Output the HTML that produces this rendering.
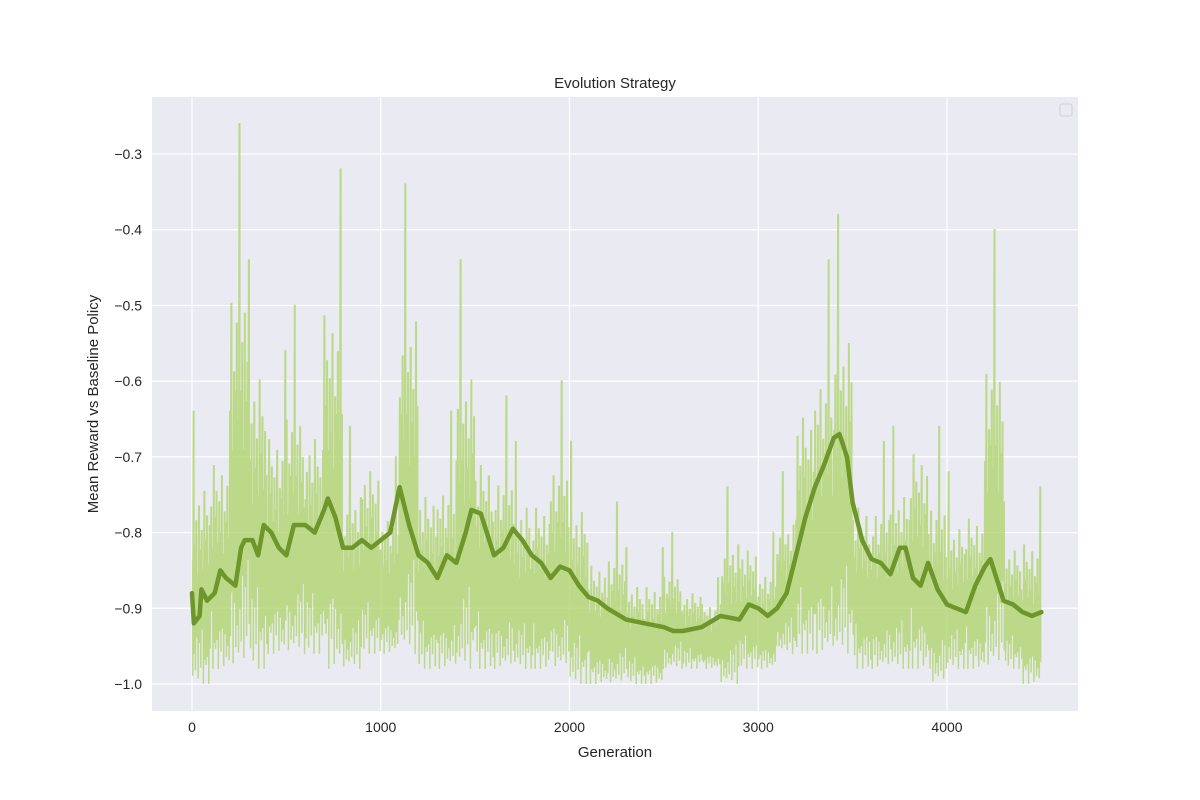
<!DOCTYPE html>
<html><head><meta charset="utf-8"><style>
body{margin:0;background:#fff;}
svg{display:block;font-family:"Liberation Sans",sans-serif;}
</style></head><body>
<svg id="chart" width="1200" height="800"></svg>
<script>
const rawBins=[0,100,200,300,400,500,600,700,800,900,1000,1100,1200,1300,1400,1500,1600,1700,1800,1900,2000,2100,2200,2300,2400,2500,2600,2700,2800,2900,3000,3100,3200,3300,3400,3500,3600,3700,3800,3900,4000,4100,4200,4300,4400];
const rawHigh=[-0.64,-0.60,-0.26,-0.44,-0.56,-0.50,-0.56,-0.32,-0.66,-0.62,-0.70,-0.34,-0.66,-0.64,-0.44,-0.60,-0.62,-0.68,-0.68,-0.60,-0.68,-0.78,-0.76,-0.82,-0.82,-0.80,-0.84,-0.86,-0.74,-0.76,-0.80,-0.72,-0.52,-0.44,-0.38,-0.68,-0.68,-0.66,-0.58,-0.66,-0.72,-0.70,-0.40,-0.76,-0.74];
const rawLow=[-1.0,-0.98,-0.98,-0.98,-0.96,-0.96,-0.96,-0.98,-0.98,-0.96,-0.96,-0.96,-0.98,-0.98,-0.98,-0.98,-0.98,-0.98,-0.98,-0.98,-1.0,-1.0,-1.0,-1.0,-1.0,-0.98,-0.98,-0.98,-1.0,-0.98,-0.98,-0.96,-0.96,-0.96,-0.96,-0.98,-0.98,-0.98,-0.98,-1.0,-0.98,-0.98,-0.98,-0.98,-1.0];
const smoothGen=[0,10,40,50,80,120,150,180,230,260,280,320,350,380,420,460,500,540,600,650,700,720,760,800,850,900,950,1000,1050,1100,1150,1200,1250,1300,1350,1400,1450,1480,1530,1600,1650,1700,1750,1800,1850,1900,1950,2000,2050,2100,2150,2200,2300,2400,2500,2550,2600,2700,2800,2900,2950,3000,3050,3100,3150,3200,3250,3300,3350,3400,3430,3470,3500,3550,3600,3650,3700,3750,3780,3820,3860,3900,3950,4000,4050,4100,4150,4200,4230,4300,4350,4400,4450,4500];
const smoothVal=[-0.88,-0.92,-0.91,-0.875,-0.89,-0.88,-0.85,-0.86,-0.87,-0.82,-0.81,-0.81,-0.83,-0.79,-0.80,-0.82,-0.83,-0.79,-0.79,-0.80,-0.77,-0.755,-0.78,-0.82,-0.82,-0.81,-0.82,-0.81,-0.80,-0.74,-0.79,-0.83,-0.84,-0.86,-0.83,-0.84,-0.80,-0.77,-0.775,-0.83,-0.82,-0.795,-0.81,-0.83,-0.84,-0.86,-0.845,-0.85,-0.87,-0.885,-0.89,-0.90,-0.915,-0.92,-0.925,-0.93,-0.93,-0.925,-0.91,-0.915,-0.895,-0.90,-0.91,-0.90,-0.88,-0.83,-0.78,-0.74,-0.71,-0.675,-0.67,-0.70,-0.76,-0.81,-0.835,-0.84,-0.855,-0.82,-0.82,-0.86,-0.87,-0.84,-0.875,-0.895,-0.90,-0.905,-0.87,-0.845,-0.835,-0.89,-0.895,-0.905,-0.91,-0.905];
const xTicks=[0,1000,2000,3000,4000];
const yTicks=[-1.0,-0.9,-0.8,-0.7,-0.6,-0.5,-0.4,-0.3];

const NS="http://www.w3.org/2000/svg";
const svg=document.getElementById('chart');
const L=152,R=1078,T=97,B=711;
const X=g=>192+g*(947-192)/4000;
const Y=v=>154+(v+0.3)*(684-154)/(-0.7);
function mk(tag,attrs,parent){const e=document.createElementNS(NS,tag);for(const k in attrs)e.setAttribute(k,attrs[k]);(parent||svg).appendChild(e);return e;}

const bg=mk('rect',{x:L,y:T,width:R-L,height:B-T,fill:'#eaeaf2'});


xTicks.forEach(t=>{
  const g=mk('line',{x1:X(t),x2:X(t),y1:T,y2:B,stroke:'#fff','stroke-width':1.2});
  
  
  const lb=mk('text',{x:X(t),y:B+21,'text-anchor':'middle','font-size':14,fill:'#262626'});
  lb.textContent=t;
  
  
});
yTicks.forEach(t=>{
  const g=mk('line',{x1:L,x2:R,y1:Y(t),y2:Y(t),stroke:'#fff','stroke-width':1.2});
  
  
  const lb=mk('text',{x:L-10,y:Y(t)+5,'text-anchor':'end','font-size':14,fill:'#262626'});
  lb.textContent=t.toFixed(1).replace('-','\u2212');
  
  
});

const pat=[0.15,1,0.3,0.55,0,0.7,0.25,0.45,0.05,0.85,0.35,0.6,0.1,0.5,0.2,0.75,0,0.4,0.3,0.65];
let d='';
rawBins.forEach((b,i)=>{
  const hi=rawHigh[i],lo=rawLow[i],n=14;
  const mid=lo+(hi-lo)*0.4;
  for(let k=0;k<n;k++){
    const g=b+k*100/n;
    const f=pat[(k+i*7)%pat.length];
    const top=f===1?hi:mid+(hi-mid)*f*0.6;
    const bot=lo+(mid-lo)*pat[(k*3+i)%pat.length]*0.5;
    d+=(d?'L':'M')+X(g).toFixed(1)+','+Y(top).toFixed(1)+'L'+X(g+3).toFixed(1)+','+Y(top).toFixed(1)+'L'+X(g+3.5).toFixed(1)+','+Y(bot).toFixed(1);
  }
});
const raw=mk('path',{d:d,fill:'none',stroke:'#b0d56e','stroke-opacity':0.8,'stroke-width':1.5});



const sm=mk('path',{d:smoothGen.map((g,i)=>(i?'L':'M')+X(g).toFixed(1)+','+Y(smoothVal[i]).toFixed(1)).join(''),fill:'none',stroke:'#6f962a','stroke-width':4.5,'stroke-linejoin':'round','stroke-linecap':'round'});



const title=mk('text',{x:(L+R)/2,y:88,'text-anchor':'middle','font-size':15,fill:'#262626'});
title.textContent='Evolution Strategy';


const xt=mk('text',{x:(L+R)/2,y:757,'text-anchor':'middle','font-size':15,fill:'#262626'});
xt.textContent='Generation';


const yt=mk('text',{x:98,y:(T+B)/2,'text-anchor':'middle','font-size':15,fill:'#262626',transform:'rotate(-90 98 '+((T+B)/2)+')'});
yt.textContent='Mean Reward vs Baseline Policy';


const lg=mk('rect',{x:1060,y:104,width:12,height:12,rx:2,fill:'#eaeaf2',stroke:'#d0d0d8'});


</script>
</body></html>
